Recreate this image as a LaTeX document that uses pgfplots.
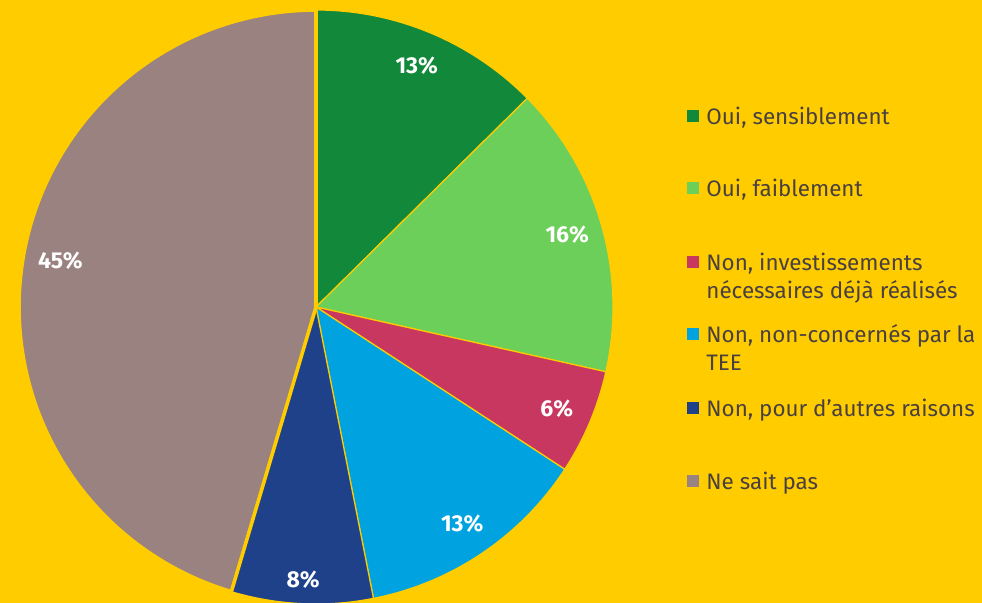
\documentclass[border=0pt]{standalone}
\usepackage{pgfplots}
\pgfplotsset{compat=1.18}
\usepackage{fontspec}
\setmainfont{Fira Sans}
\definecolor{bg}{HTML}{FFCC00}
\definecolor{cA}{HTML}{12883A}
\definecolor{cB}{HTML}{6CCF5A}
\definecolor{cC}{HTML}{C8375F}
\definecolor{cD}{HTML}{00A3E0}
\definecolor{cE}{HTML}{1F418A}
\definecolor{cF}{HTML}{9A8280}
\definecolor{txt}{HTML}{4A4040}
% slice values (percent)
\def\vA{12.6}\def\vB{15.9}\def\vC{5.7}\def\vD{12.7}\def\vE{7.7}\def\vF{45.4}
\pgfmathsetmacro\aA{90}
\pgfmathsetmacro\aB{\aA-3.6*\vA}
\pgfmathsetmacro\aC{\aB-3.6*\vB}
\pgfmathsetmacro\aD{\aC-3.6*\vC}
\pgfmathsetmacro\aE{\aD-3.6*\vD}
\pgfmathsetmacro\aF{\aE-3.6*\vE}
\pgfmathsetmacro\aG{\aF-3.6*\vF}
\begin{document}
\begin{tikzpicture}[x=0.5pt,y=0.5pt]
\fill[bg] (0,0) rectangle (982,603);
\clip (0,0) rectangle (982,603);
\begin{axis}[at={(158pt,148pt)}, anchor=center, scale only axis, width=297pt, height=297pt,
  xmin=-1, xmax=1, ymin=-1, ymax=1, hide axis, clip=false]
\addplot[fill=cA, draw=bg, line width=0.6pt, domain=\aB:\aA, samples=60] ({cos(x)},{sin(x)}) -- (axis cs:0,0) -- cycle;
\addplot[fill=cB, draw=bg, line width=0.6pt, domain=\aC:\aB, samples=60] ({cos(x)},{sin(x)}) -- (axis cs:0,0) -- cycle;
\addplot[fill=cC, draw=bg, line width=0.6pt, domain=\aD:\aC, samples=30] ({cos(x)},{sin(x)}) -- (axis cs:0,0) -- cycle;
\addplot[fill=cD, draw=bg, line width=0.6pt, domain=\aE:\aD, samples=60] ({cos(x)},{sin(x)}) -- (axis cs:0,0) -- cycle;
\addplot[fill=cE, draw=bg, line width=0.6pt, domain=\aF:\aE, samples=40] ({cos(x)},{sin(x)}) -- (axis cs:0,0) -- cycle;
\addplot[fill=cF, draw=bg, line width=1.8pt, domain=\aG:\aF, samples=120] ({cos(x)},{sin(x)}) -- (axis cs:0,0) -- cycle;
\pgfmathsetmacro\mA{(\aA+\aB)/2}\pgfmathsetmacro\mB{(\aB+\aC)/2}\pgfmathsetmacro\mC{(\aC+\aD)/2}
\pgfmathsetmacro\mD{(\aD+\aE)/2}\pgfmathsetmacro\mE{(\aE+\aF)/2}\pgfmathsetmacro\mF{(\aF+\aG)/2}
\begin{scope}[every node/.style={text=white, font=\bfseries\fontsize{11.5}{13}\selectfont}]
\node at (axis cs:{0.88*cos(\mA)},{0.88*sin(\mA)}) {13\%};
\node at (axis cs:{0.88*cos(\mB)},{0.88*sin(\mB)}) {16\%};
\node at (axis cs:{0.88*cos(\mC)},{0.88*sin(\mC)}) {6\%};
\node at (axis cs:{0.88*cos(\mD)},{0.88*sin(\mD)}) {13\%};
\node at (axis cs:{0.92*cos(\mE)},{0.92*sin(\mE)}) {8\%};
\node at (axis cs:{0.87*cos(\mF)},{1.08*sin(\mF)}) {45\%};
\end{scope}
\end{axis}
\begin{scope}[every node/.style={text=txt, anchor=base west, inner sep=0pt, font=\fontsize{11.2}{12}\selectfont}]
\fill[cA] (687,481) rectangle (699,493);
\node at (706,478) {Oui, sensiblement};
\fill[cB] (687,409) rectangle (699,421);
\node at (706,406) {Oui, faiblement};
\fill[cC] (687,335) rectangle (699,347);
\node at (706,332) {Non, investissements};
\node at (706,304) {nécessaires déjà réalisés};
\fill[cD] (687,263) rectangle (699,275);
\node at (706,260) {Non, non-concernés par la};
\node at (706,232) {TEE};
\fill[cE] (687,189) rectangle (699,201);
\node at (706,186) {Non, pour d'autres raisons};
\fill[cF] (687,116) rectangle (699,128);
\node at (706,113) {Ne sait pas};
\end{scope}
\end{tikzpicture}
\end{document}
